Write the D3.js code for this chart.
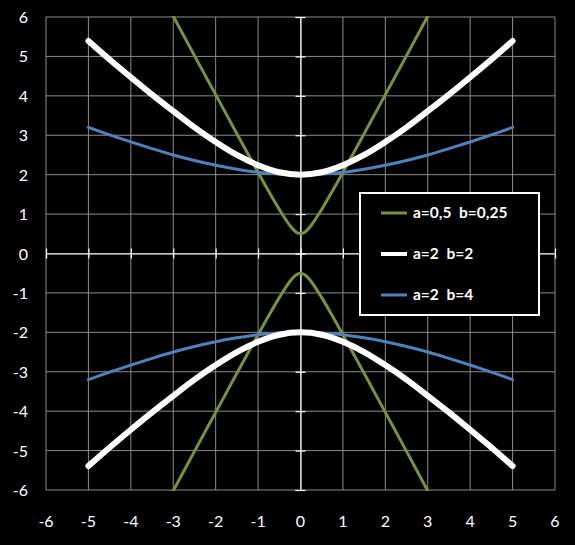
<!DOCTYPE html>
<html lang="en">
<head>
<meta charset="UTF-8">
<title>Hyperbolas</title>
<script src="https://d3js.org/d3.v7.min.js"></script>
<style>
  body { margin: 0; background: #000; }
  text { font-family: Lato, "Open Sans", sans-serif; fill: #fff; }
</style>
</head>
<body>
<div id="chart"></div>
<script>
// tick values on both axes
const ticks = [-6, -5, -4, -3, -2, -1, 0, 1, 2, 3, 4, 5, 6];

// series a=0,5 b=0,25 (green)
const greenX = [-3, -2.5, -2, -1.5, -1, -0.75, -0.5, -0.25, -0.1, 0, 0.1, 0.25, 0.5, 0.75, 1, 1.5, 2, 2.5, 3];
const greenUp = [6.02, 5.02, 4.03, 3.04, 2.06, 1.58, 1.12, 0.71, 0.54, 0.5, 0.54, 0.71, 1.12, 1.58, 2.06, 3.04, 4.03, 5.02, 6.02];
const greenDown = [-6.02, -5.02, -4.03, -3.04, -2.06, -1.58, -1.12, -0.71, -0.54, -0.5, -0.54, -0.71, -1.12, -1.58, -2.06, -3.04, -4.03, -5.02, -6.02];

// series a=2 b=2 (white) and a=2 b=4 (blue)
const wideX = [-5, -4.5, -4, -3.5, -3, -2.5, -2, -1.5, -1, -0.5, 0, 0.5, 1, 1.5, 2, 2.5, 3, 3.5, 4, 4.5, 5];
const whiteUp = [5.39, 4.92, 4.47, 4.03, 3.61, 3.2, 2.83, 2.5, 2.24, 2.06, 2, 2.06, 2.24, 2.5, 2.83, 3.2, 3.61, 4.03, 4.47, 4.92, 5.39];
const whiteDown = [-5.39, -4.92, -4.47, -4.03, -3.61, -3.2, -2.83, -2.5, -2.24, -2.06, -2, -2.06, -2.24, -2.5, -2.83, -3.2, -3.61, -4.03, -4.47, -4.92, -5.39];
const blueUp = [3.2, 3.01, 2.83, 2.66, 2.5, 2.36, 2.24, 2.14, 2.06, 2.02, 2, 2.02, 2.06, 2.14, 2.24, 2.36, 2.5, 2.66, 2.83, 3.01, 3.2];
const blueDown = [-3.2, -3.01, -2.83, -2.66, -2.5, -2.36, -2.24, -2.14, -2.06, -2.02, -2, -2.02, -2.06, -2.14, -2.24, -2.36, -2.5, -2.66, -2.83, -3.01, -3.2];

const legendLabels = ["a=0,5  b=0,25", "a=2  b=2", "a=2  b=4"];
const colors = ["#77933C", "#FFFFFF", "#4F81BD"];
const widths = [3, 6, 3];

const W = 575, H = 545;
const pLeft = 46, pRight = 555, pTop = 17, pBottom = 490;

const svg = d3.select("#chart").append("svg")
    .attr("width", W).attr("height", H)
    .style("background", "#000");

const x = d3.scaleLinear().domain([-6, 6]).range([pLeft, pRight]);
const y = d3.scaleLinear().domain([-6, 6]).range([pBottom, pTop]);

// grid
svg.append("g").selectAll("line").data(ticks).enter().append("line")
    .attr("x1", d => x(d)).attr("x2", d => x(d))
    .attr("y1", pTop).attr("y2", pBottom)
    .attr("stroke", "#8c8c8c").attr("stroke-width", 1);
svg.append("g").selectAll("line").data(ticks).enter().append("line")
    .attr("y1", d => y(d)).attr("y2", d => y(d))
    .attr("x1", pLeft).attr("x2", pRight)
    .attr("stroke", "#8c8c8c").attr("stroke-width", 1);

// zero axes with crossing ticks
const xAxis = svg.append("g")
    .attr("transform", "translate(0," + y(0) + ")")
    .call(d3.axisBottom(x).tickValues(ticks).tickSize(5).tickFormat(""));
const yAxis = svg.append("g")
    .attr("transform", "translate(" + x(0) + ",0)")
    .call(d3.axisLeft(y).tickValues(ticks).tickSize(5).tickFormat(""));
[xAxis, yAxis].forEach(g => {
    g.select(".domain").attr("stroke", "#fff").attr("stroke-width", 1.2);
    g.selectAll(".tick line").attr("stroke", "#fff").attr("stroke-width", 1.2);
});
xAxis.selectAll(".tick line").attr("y1", -5);
yAxis.selectAll(".tick line").attr("x1", 5);

// tick labels
svg.append("g").selectAll("text").data(ticks).enter().append("text")
    .attr("x", d => x(d)).attr("y", 527)
    .attr("text-anchor", "middle").attr("font-size", 16)
    .text(d => d);
svg.append("g").selectAll("text").data(ticks).enter().append("text")
    .attr("x", 28).attr("y", d => y(d) + 6)
    .attr("text-anchor", "end").attr("font-size", 16)
    .text(d => d);

// curves
svg.append("clipPath").attr("id", "clip").append("rect")
    .attr("x", pLeft).attr("y", pTop - 1).attr("width", pRight - pLeft).attr("height", pBottom - pTop + 2);

const series = [
    { xs: greenX, ys: greenUp, i: 0 },
    { xs: greenX, ys: greenDown, i: 0 },
    { xs: wideX, ys: blueUp, i: 2 },
    { xs: wideX, ys: blueDown, i: 2 },
    { xs: wideX, ys: whiteUp, i: 1 },
    { xs: wideX, ys: whiteDown, i: 1 }
];

const line = d3.line()
    .x(d => x(d[0])).y(d => y(d[1]))
    .curve(d3.curveCatmullRom.alpha(0.5));

const plot = svg.append("g").attr("clip-path", "url(#clip)");
series.forEach(s => {
    plot.append("path")
        .datum(s.xs.map((v, k) => [v, s.ys[k]]))
        .attr("d", line)
        .attr("fill", "none")
        .attr("stroke", colors[s.i])
        .attr("stroke-width", widths[s.i])
        .attr("stroke-linecap", "round");
});

// legend
const lg = svg.append("g");
lg.append("rect")
    .attr("x", 360).attr("y", 193).attr("width", 179).attr("height", 122)
    .attr("fill", "#000").attr("stroke", "#fff").attr("stroke-width", 2);
legendLabels.forEach((lab, i) => {
    const ly = 213 + i * 41;
    lg.append("line")
        .attr("x1", 381).attr("x2", 407).attr("y1", ly).attr("y2", ly)
        .attr("stroke", colors[i]).attr("stroke-width", widths[i] === 6 ? 4 : 3);
    lg.append("text")
        .attr("x", 413).attr("y", ly + 5)
        .attr("font-size", 15.5).attr("font-weight", "bold")
        .attr("xml:space", "preserve")
        .style("white-space", "pre")
        .text(lab);
});
</script>
</body>
</html>
